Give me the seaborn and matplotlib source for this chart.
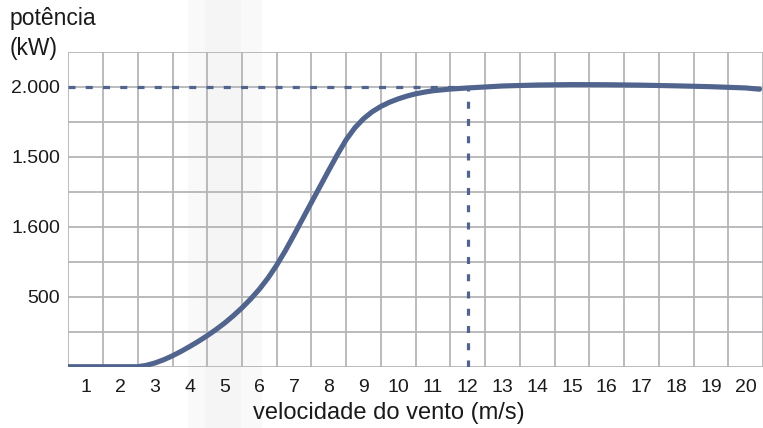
import matplotlib
matplotlib.use("Agg")
import matplotlib.pyplot as plt
import seaborn as sns
import pandas as pd
import numpy as np
from matplotlib.patches import Rectangle

# ---- data ----
wind_speed = [0.5, 1, 2, 2.5, 2.75, 3, 3.25, 3.5, 3.75, 4, 4.25, 4.5, 4.75, 5, 5.25, 5.5,
              5.75, 6, 6.25, 6.5, 6.75, 7, 7.25, 7.5, 7.75, 8, 8.25, 8.5, 8.75, 9, 9.25,
              9.5, 9.75, 10, 10.25, 10.5, 10.75, 11, 11.5, 12, 13, 14, 15, 16, 17, 18,
              19, 20, 20.4]
power_kw = [0, 0, 0, 0, 10, 27, 50, 78, 110, 145, 182, 222, 265, 312, 364, 421,
            484, 554, 634, 726, 830, 943, 1059, 1175, 1290, 1405, 1518, 1623, 1708, 1773, 1823,
            1861, 1891, 1915, 1935, 1951, 1963, 1973, 1985, 1993, 2007, 2014, 2017, 2016, 2013, 2008,
            2002, 1993, 1984]
x_ticks = list(range(1, 21))
y_ticks = [500, 1000, 1500, 2000]
y_tick_labels = ["500", "1.600", "1.500", "2.000"]
rated_power = 2000
rated_speed = 12

df = pd.DataFrame({"v": wind_speed, "p": power_kw})

sns.set_theme(style="white")
plt.rcParams["font.family"] = ["Liberation Sans", "DejaVu Sans"]

W, H = 763, 428
fig = plt.figure(figsize=(W / 100, H / 100), dpi=100)
fig.patch.set_facecolor("white")

# faint background band (photo artifact)
fig.patches.append(Rectangle((188 / W, 0), 74 / W, 1, transform=fig.transFigure,
                             facecolor="#f9f9f9", edgecolor="none", zorder=-2))
fig.patches.append(Rectangle((205 / W, 0), 36 / W, 1, transform=fig.transFigure,
                             facecolor="#f5f5f5", edgecolor="none", zorder=-1))

left, right = 68.3, 763
bottom, top = 366.7, 52
ax = fig.add_axes([left / W, (H - bottom) / H, (right - left) / W, (bottom - top) / H])
ax.set_zorder(1)
ax.set_facecolor("none")
ax.set_xlim(0.5, 0.5 + (right - left) / 35.0)
ax.set_ylim(0, 2250)

for s in ax.spines.values():
    s.set_visible(False)

# grid via minor ticks
ax.set_xticks(np.arange(0.5, 21, 1.0), minor=True)
ax.set_yticks(np.arange(0, 2251, 250), minor=True)
ax.xaxis.remove_overlapping_locs = False
ax.yaxis.remove_overlapping_locs = False
ax.grid(which="minor", color="#b5b5b7", linewidth=1.3, zorder=1)
ax.grid(which="major", visible=False)

ax.set_xticks(x_ticks)
ax.set_xticklabels([str(t) for t in x_ticks])
ax.set_yticks(y_ticks)
ax.set_yticklabels(y_tick_labels)
ax.tick_params(which="both", length=0)
ax.tick_params(axis="x", pad=9, labelsize=14, labelcolor="#1a1a1a")
ax.tick_params(axis="y", pad=6, labelsize=14, labelcolor="#1a1a1a")

line_color = "#50648e"
# dashed reference lines
ax.plot([0.5, rated_speed], [rated_power, rated_power], color=line_color, lw=2.3,
        linestyle=(0, (2.2, 3.2)), zorder=2)
ax.plot([rated_speed, rated_speed], [0, rated_power], color=line_color, lw=2.3,
        linestyle=(0, (2.2, 3.2)), zorder=2)

sns.lineplot(data=df, x="v", y="p", ax=ax, color=line_color, linewidth=3.7,
             zorder=3, legend=False)
ax.lines[-1].set_solid_joinstyle("round")

ax.set_xlabel("velocidade do vento (m/s)", fontsize=17, color="#1a1a1a")
ax.xaxis.set_label_coords((389 - left) / (right - left), -(413 - bottom) / (bottom - top),
                          transform=ax.transAxes)
ax.xaxis.label.set_va("center")
ax.set_ylabel("")

fig.text(10 / W, 1 - 19 / H, "potência", fontsize=16.5, color="#1a1a1a", va="center", ha="left")
fig.text(10 / W, 1 - 48 / H, "(kW)", fontsize=16.5, color="#1a1a1a", va="center", ha="left")

fig.savefig("out.png", dpi=100, facecolor="white")
